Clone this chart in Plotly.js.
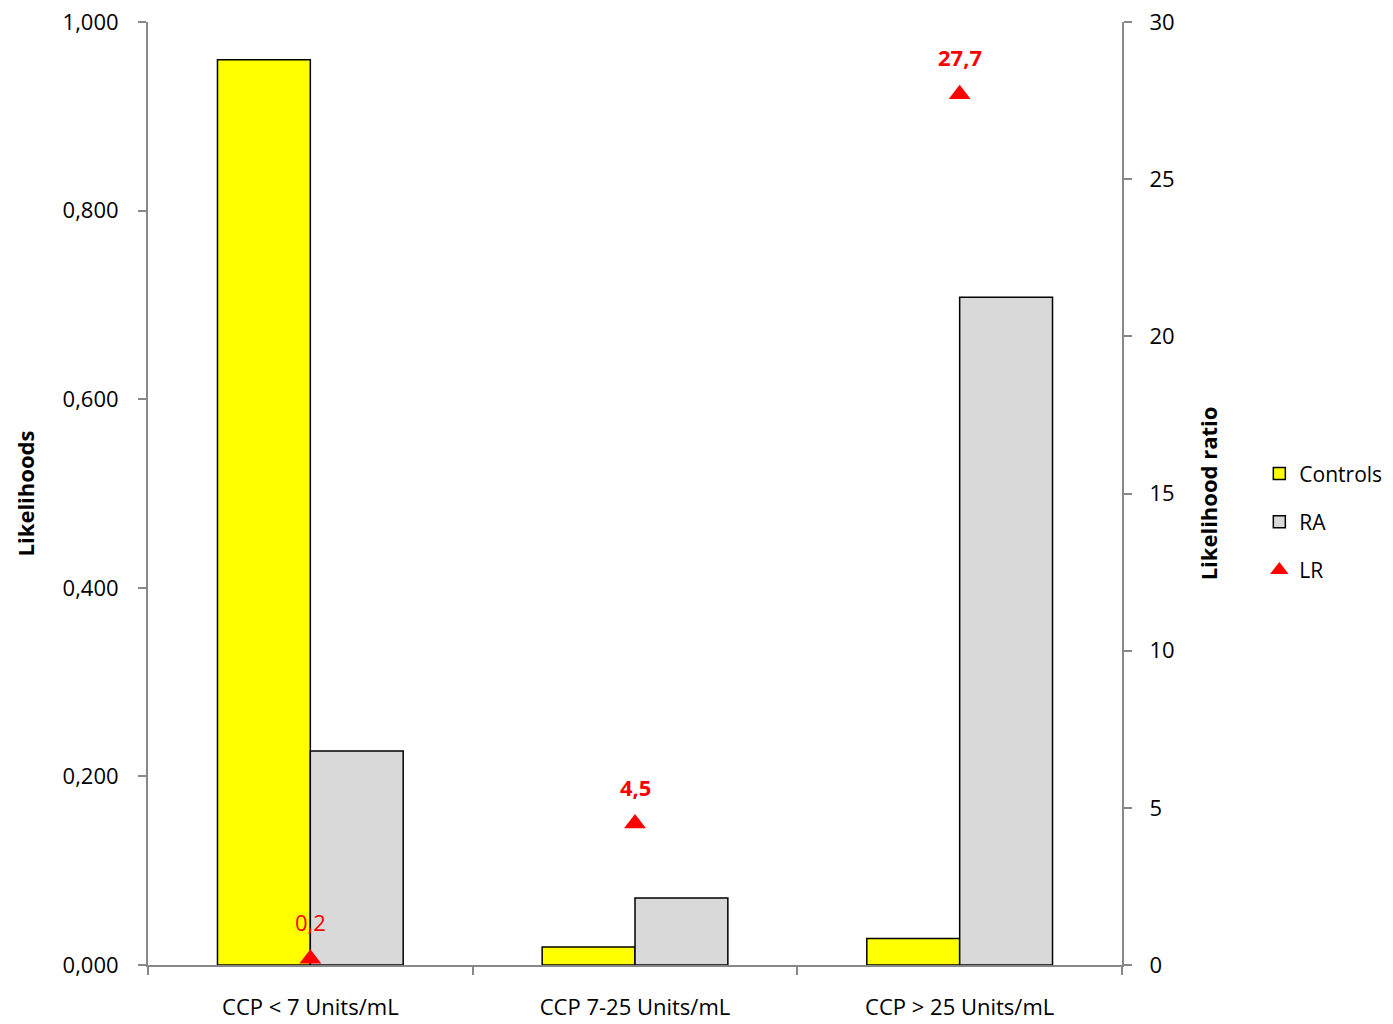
<!DOCTYPE html>
<html>
<head>
<meta charset="utf-8">
<script src="https://cdn.plot.ly/plotly-3.0.1.min.js"></script>
<style>html,body{margin:0;padding:0;background:#fff;}#chart{width:1393px;height:1024px;}</style>
</head>
<body>
<div id="chart"></div>
<script>
var categories = ["CCP < 7 Units/mL", "CCP 7-25 Units/mL", "CCP > 25 Units/mL"];
var controls = [0.960, 0.019, 0.028];
var ra = [0.227, 0.071, 0.708];
var lr = [0.2, 4.5, 27.7];
var lrBold = [false, true, true];

var FONT = "Open Sans, Noto Sans, sans-serif";

var traces = [
  {type: "bar", name: "Controls", x: categories, y: controls, legendgroup: "a",
   marker: {color: "#ffff00", line: {color: "#000", width: 1.5}}},
  {type: "bar", name: "RA", x: categories, y: ra, legendgroup: "b",
   marker: {color: "#d9d9d9", line: {color: "#000", width: 1.5}}},
  {type: "scatter", mode: "markers", name: "LR", x: categories, y: lr, yaxis: "y2", legendgroup: "c",
   marker: {symbol: "triangle-up", color: "#ff0000", size: 19}}
];

var annotations = lr.map(function(v, i) {
  var t = String(v).replace(".", ",");
  return {x: categories[i], y: v, xref: "x", yref: "y2", text: lrBold[i] ? "<b>" + t + "</b>" : t,
          showarrow: false, yshift: 37, font: {family: FONT, size: 22, color: "#ff0000"}};
});

var layout = {
  width: 1393, height: 1024,
  margin: {l: 148, r: 271, t: 22, b: 59, autoexpand: false},
  paper_bgcolor: "#fff", plot_bgcolor: "#fff",
  separators: ",.",
  barmode: "group", bargap: 0.428, bargroupgap: 0,
  font: {family: FONT, size: 22, color: "#000"},
  xaxis: {type: "category", showline: true, linecolor: "#888", linewidth: 2,
          ticks: "outside", tickson: "boundaries", ticklen: 8, tickcolor: "#888", tickwidth: 2,
          ticklabelstandoff: 22,
          tickfont: {family: FONT, size: 22}, showgrid: false, zeroline: false},
  yaxis: {range: [0, 1], tickvals: [0, 0.2, 0.4, 0.6, 0.8, 1.0], tickformat: ".3f",
          showline: true, linecolor: "#888", linewidth: 2, ticks: "outside", ticklen: 8,
          tickcolor: "#888", tickwidth: 2, showgrid: false, zeroline: false,
          ticklabelstandoff: 15,
          tickfont: {family: FONT, size: 22},
          title: {text: "<b>Likelihoods</b>", font: {family: FONT, size: 22}, standoff: 22}},
  yaxis2: {range: [0, 30], tickvals: [0, 5, 10, 15, 20, 25, 30], overlaying: "y", side: "right",
           showline: true, linecolor: "#888", linewidth: 2, ticks: "outside", ticklen: 8,
           tickcolor: "#888", tickwidth: 2, showgrid: false, zeroline: false,
           ticklabelstandoff: 13,
           tickfont: {family: FONT, size: 22},
           title: {text: "<b>Likelihood ratio</b>", font: {family: FONT, size: 22}, standoff: 28}},
  legend: {x: 1.141, xanchor: "left", y: 0.47, yanchor: "middle", traceorder: "grouped",
           tracegroupgap: 18, font: {family: FONT, size: 21}, bgcolor: "rgba(0,0,0,0)"},
  showlegend: true,
  annotations: annotations
};

Plotly.newPlot("chart", traces, layout, {displayModeBar: false, staticPlot: true});
</script>
</body>
</html>
